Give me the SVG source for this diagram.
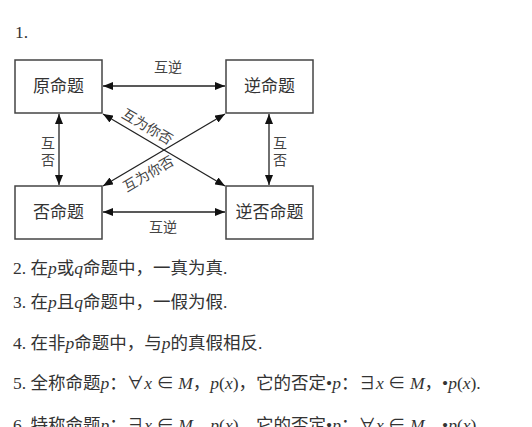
<svg xmlns="http://www.w3.org/2000/svg" width="532" height="427" viewBox="0 0 532 427">
<defs>
<marker id="ah" viewBox="0 0 10 8" refX="10" refY="4" markerWidth="10" markerHeight="8" markerUnits="userSpaceOnUse" orient="auto-start-reverse">
<path d="M0,0 L10,4 L0,8 Z" fill="#111"/>
</marker>
<style>
.box{fill:#fff;stroke:#444;stroke-width:1.5}
.nl{font-family:"Liberation Serif","Noto Sans CJK SC",serif;font-size:17px;fill:#333;text-anchor:middle}
.el{font-family:"Liberation Serif","Noto Sans CJK SC",serif;font-size:14px;fill:#444;text-anchor:middle}
.ln{stroke:#222;stroke-width:1.3;fill:none;marker-start:url(#ah);marker-end:url(#ah)}
.tx{font-family:"Liberation Serif","Noto Sans CJK SC",serif;font-size:17.5px;fill:#333}
.m{font-style:italic}
</style>
</defs>
<rect width="532" height="427" fill="#fff"/>
<text class="tx" x="15" y="38">1.</text>
<g id="yuan"><rect class="box" x="15" y="60" width="87" height="53"/><text class="nl" x="58.5" y="92">原命题</text></g>
<g id="ni"><rect class="box" x="226" y="60" width="87" height="53"/><text class="nl" x="269.5" y="92">逆命题</text></g>
<g id="fou"><rect class="box" x="15" y="186" width="87" height="53"/><text class="nl" x="58.5" y="218">否命题</text></g>
<g id="nifou"><rect class="box" x="226" y="186" width="87" height="53"/><text class="nl" x="269.5" y="218">逆否命题</text></g>
<g id="connectors">
<line class="ln" x1="103" y1="86" x2="225" y2="86"/>
<line class="ln" x1="103" y1="212" x2="225" y2="212"/>
<line class="ln" x1="59" y1="114" x2="59" y2="185"/>
<line class="ln" x1="269" y1="114" x2="269" y2="185"/>
<line class="ln" x1="103" y1="114" x2="225" y2="186"/>
<line class="ln" x1="103" y1="186" x2="225" y2="114"/>
<text class="el" x="168" y="72">互逆</text>
<text class="el" x="163" y="232">互逆</text>
<text class="el" x="48" y="148">互</text>
<text class="el" x="48" y="165">否</text>
<text class="el" x="280" y="148">互</text>
<text class="el" x="280" y="165">否</text>
<text class="el" transform="translate(145,131) rotate(30.5)">互为你否</text>
<text class="el" transform="translate(151,178) rotate(-30.5)">互为你否</text>
</g>
<text class="tx" x="13" y="274">2. 在<tspan class="m">p</tspan>或<tspan class="m">q</tspan>命题中，一真为真.</text>
<text class="tx" x="13" y="308">3. 在<tspan class="m">p</tspan>且<tspan class="m">q</tspan>命题中，一假为假.</text>
<text class="tx" x="13" y="349">4. 在非<tspan class="m">p</tspan>命题中，与<tspan class="m">p</tspan>的真假相反.</text>
<text class="tx" x="13" y="389">5. 全称命题<tspan class="m">p</tspan>：∀<tspan class="m">x</tspan> ∈ <tspan class="m">M</tspan>，<tspan class="m">p</tspan>(<tspan class="m">x</tspan>)，它的否定•<tspan class="m">p</tspan>：∃<tspan class="m">x</tspan> ∈ <tspan class="m">M</tspan>，•<tspan class="m">p</tspan>(<tspan class="m">x</tspan>).</text>
<text class="tx" x="13" y="431">6. 特称命题<tspan class="m">p</tspan>：∃<tspan class="m">x</tspan> ∈ <tspan class="m">M</tspan>，<tspan class="m">p</tspan>(<tspan class="m">x</tspan>)，它的否定•<tspan class="m">p</tspan>：∀<tspan class="m">x</tspan> ∈ <tspan class="m">M</tspan>，•<tspan class="m">p</tspan>(<tspan class="m">x</tspan>).</text>
</svg>
